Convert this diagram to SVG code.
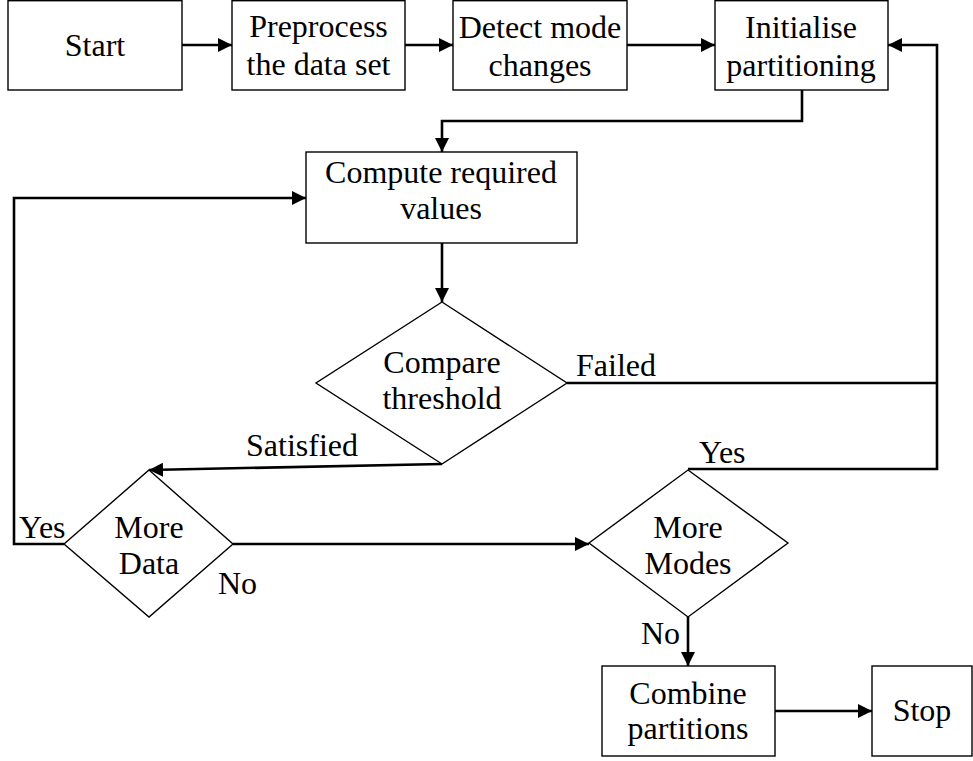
<svg xmlns="http://www.w3.org/2000/svg" width="973" height="761" viewBox="0 0 973 761">
<defs>
<marker id="ah" markerUnits="userSpaceOnUse" viewBox="0 0 14 14" refX="14" refY="7" markerWidth="14" markerHeight="14" orient="auto">
<path d="M0,0 L14,7 L0,14 z" fill="#000"/>
</marker>
<style>
.box{fill:#fff;stroke:#000;stroke-width:1.4}
text{font-family:'Liberation Serif','Times New Roman','DejaVu Serif',serif;font-size:32px;fill:#000}
.t{text-anchor:middle}
.c{fill:none;stroke:#000;stroke-width:2.6}
.ca{fill:none;stroke:#000;stroke-width:2.6;marker-end:url(#ah)}
</style>
</defs>
<rect width="973" height="761" fill="#fff"/>
<g id="connectors">
<line class="ca" x1="182" y1="45" x2="232" y2="45"/>
<line class="ca" x1="405" y1="45" x2="453" y2="45"/>
<line class="ca" x1="627" y1="45" x2="715" y2="45"/>
<polyline class="ca" points="802,90 802,121 442,121 442,152"/>
<line class="ca" x1="442" y1="243" x2="442" y2="302"/>
<line class="c" x1="567" y1="383" x2="937" y2="383"/>
<polyline class="ca" points="688,469 937,469 937,45 888,45"/>
<line class="ca" x1="442" y1="464" x2="149" y2="470"/>
<polyline class="ca" points="64,544 14,544 14,198 306,198"/>
<line class="ca" x1="233" y1="544" x2="589" y2="544"/>
<line class="ca" x1="688" y1="617" x2="688" y2="666"/>
<line class="ca" x1="775" y1="711" x2="872" y2="711"/>
</g>
<g id="start">
<rect class="box" x="8" y="0.7" width="174" height="89.3"/>
<text class="t" x="95" y="56">Start</text>
</g>
<g id="preprocess">
<rect class="box" x="232" y="0.7" width="173" height="89.3"/>
<text class="t" x="318.5" y="37">Preprocess</text>
<text class="t" x="318.5" y="75">the data set</text>
</g>
<g id="detect">
<rect class="box" x="453" y="0.7" width="174" height="89.3"/>
<text class="t" x="540" y="38">Detect mode</text>
<text class="t" x="540" y="76">changes</text>
</g>
<g id="initialise">
<rect class="box" x="715" y="0.7" width="173" height="89.3"/>
<text class="t" x="801" y="38">Initialise</text>
<text class="t" x="801" y="76">partitioning</text>
</g>
<g id="compute">
<rect class="box" x="306" y="152" width="271" height="91"/>
<text class="t" x="441" y="183">Compute required</text>
<text class="t" x="441" y="219">values</text>
</g>
<g id="compare">
<polygon class="box" points="442,302 567,383 442,464 316,383"/>
<text class="t" x="442" y="373">Compare</text>
<text class="t" x="442" y="409">threshold</text>
</g>
<g id="moredata">
<polygon class="box" points="149,470 233,544 149,617 64,544"/>
<text class="t" x="149" y="538">More</text>
<text class="t" x="149" y="574">Data</text>
</g>
<g id="moremodes">
<polygon class="box" points="688,470 788,543 688,617 589,543"/>
<text class="t" x="688" y="538">More</text>
<text class="t" x="688" y="574">Modes</text>
</g>
<g id="combine">
<rect class="box" x="602" y="666" width="173" height="90"/>
<text class="t" x="688" y="704">Combine</text>
<text class="t" x="688" y="739">partitions</text>
</g>
<g id="stop">
<rect class="box" x="872" y="666" width="100" height="90"/>
<text class="t" x="922" y="721">Stop</text>
</g>
<g id="labels">
<text x="576" y="376">Failed</text>
<text x="246" y="456">Satisfied</text>
<text x="19" y="538">Yes</text>
<text x="699" y="463">Yes</text>
<text x="218" y="594">No</text>
<text x="641" y="644">No</text>
</g>
</svg>
